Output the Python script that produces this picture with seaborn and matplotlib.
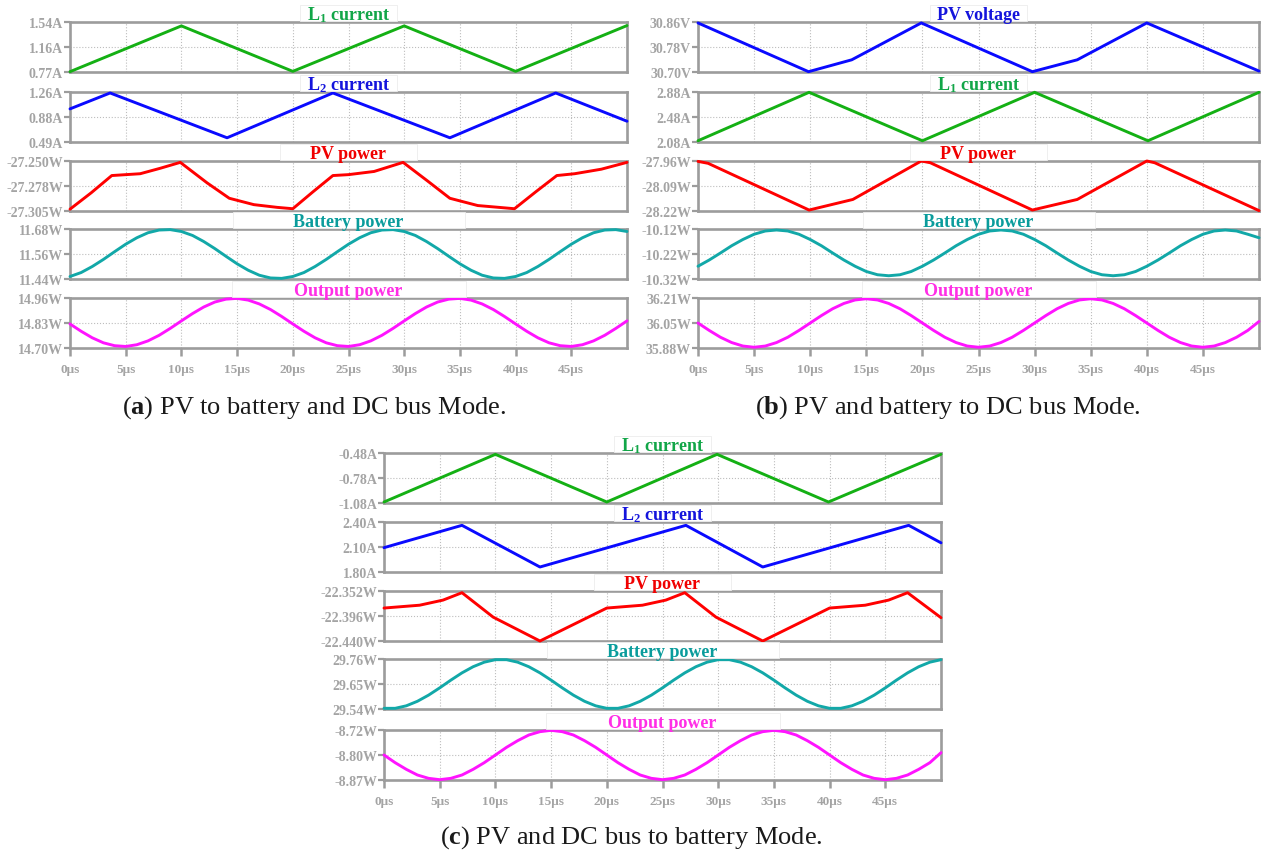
import matplotlib.pyplot as plt
from matplotlib.patches import Rectangle
import seaborn as sns

sns.set_style('ticks')
plt.rcParams['font.family'] = ['Liberation Serif', 'DejaVu Serif']
plt.rcParams['mathtext.fontset'] = 'custom'
plt.rcParams['mathtext.rm'] = 'Liberation Serif'
plt.rcParams['mathtext.bf'] = 'Liberation Serif:bold'
plt.rcParams['mathtext.it'] = 'Liberation Serif:italic'

W, H = 1263, 854

# time axis (µs)
t_us = list(range(51))
x_ticks = [0, 5, 10, 15, 20, 25, 30, 35, 40, 45]
x_labels = ['0µs', '5µs', '10µs', '15µs', '20µs', '25µs', '30µs', '35µs', '40µs', '45µs']

# ---- (a) PV to battery and DC bus mode ----
a_l1_t = [0, 10, 20, 30, 40, 50]
a_l1 = [0.775, 1.48, 0.78, 1.48, 0.78, 1.485]
a_l2_t = [0, 3.6, 14.1, 23.6, 34.1, 43.6, 50]
a_l2 = [1.00, 1.245, 0.555, 1.245, 0.555, 1.245, 0.81]
a_pv_t = [0, 1.9, 3.75, 6.3, 8.1, 9.9, 12.3, 14.3, 16.5, 18.6, 20, 21.8, 23.6, 25, 27.3,
          29.9, 32.1, 34.1, 36.6, 38.5, 39.9, 41.8, 43.7, 45.3, 47.7, 50]
a_pv = [-27.303, -27.285, -27.266, -27.264, -27.258, -27.2515, -27.274, -27.291, -27.298,
        -27.301, -27.3025, -27.284, -27.266, -27.265, -27.2615, -27.2515, -27.272, -27.291,
        -27.299, -27.301, -27.3025, -27.284, -27.266, -27.264, -27.259, -27.2515]
a_bat = [11.452, 11.471, 11.500, 11.534, 11.571, 11.607, 11.638, 11.662, 11.675, 11.677,
         11.668, 11.649, 11.620, 11.586, 11.549, 11.513, 11.482, 11.458, 11.445, 11.443,
         11.452, 11.471, 11.500, 11.534, 11.571, 11.607, 11.638, 11.662, 11.675, 11.677,
         11.668, 11.649, 11.620, 11.586, 11.549, 11.513, 11.482, 11.458, 11.445, 11.443,
         11.452, 11.471, 11.500, 11.534, 11.571, 11.607, 11.638, 11.662, 11.675, 11.677,
         11.668]
a_out = [14.825, 14.787, 14.753, 14.727, 14.712, 14.708, 14.717, 14.737, 14.766, 14.802,
         14.841, 14.879, 14.913, 14.939, 14.954, 14.958, 14.949, 14.929, 14.900, 14.864,
         14.825, 14.787, 14.753, 14.727, 14.712, 14.708, 14.717, 14.737, 14.766, 14.802,
         14.841, 14.879, 14.913, 14.939, 14.954, 14.958, 14.949, 14.929, 14.900, 14.864,
         14.825, 14.787, 14.753, 14.727, 14.712, 14.708, 14.717, 14.737, 14.766, 14.802,
         14.841]

# ---- (b) PV and battery to DC bus mode ----
b_v_t = [0, 9.85, 13.7, 19.9, 29.8, 33.8, 40, 50]
b_v = [30.857, 30.701, 30.739, 30.857, 30.701, 30.739, 30.857, 30.703]
b_l1_t = [0, 9.9, 20, 30, 40.1, 50]
b_l1 = [2.10, 2.875, 2.10, 2.875, 2.10, 2.875]
b_pv_t = [0, 0.9, 9.9, 13.8, 19.9, 20.7, 29.8, 33.8, 40, 40.7, 50]
b_pv = [-27.962, -27.972, -28.215, -28.16, -27.96, -27.969, -28.215, -28.16, -27.96,
        -27.969, -28.218]
b_bat = [-10.269, -10.244, -10.216, -10.187, -10.162, -10.141, -10.128, -10.124, -10.128,
         -10.141, -10.162, -10.187, -10.216, -10.244, -10.269, -10.290, -10.303, -10.307,
         -10.303, -10.290,
         -10.269, -10.244, -10.216, -10.187, -10.162, -10.141, -10.128, -10.124, -10.128,
         -10.141, -10.162, -10.187, -10.216, -10.244, -10.269, -10.290, -10.303, -10.307,
         -10.303, -10.290,
         -10.269, -10.244, -10.216, -10.187, -10.162, -10.141, -10.128, -10.124, -10.128,
         -10.141, -10.155]
b_out = [36.045, 35.996, 35.951, 35.916, 35.893, 35.885, 35.893, 35.916, 35.951, 35.996,
         36.045, 36.094, 36.139, 36.174, 36.197, 36.205, 36.197, 36.174, 36.139, 36.094,
         36.045, 35.996, 35.951, 35.916, 35.893, 35.885, 35.893, 35.916, 35.951, 35.996,
         36.045, 36.094, 36.139, 36.174, 36.197, 36.205, 36.197, 36.174, 36.139, 36.094,
         36.045, 35.996, 35.951, 35.916, 35.893, 35.885, 35.893, 35.916, 35.951, 35.996,
         36.055]

# ---- (c) PV and DC bus to battery mode ----
c_l1_t = [0, 10, 20, 29.9, 39.9, 50]
c_l1 = [-1.068, -0.496, -1.068, -0.496, -1.068, -0.496]
c_l2_t = [0, 7.0, 14.0, 27.1, 34.0, 47.1, 50]
c_l2 = [2.092, 2.36, 1.86, 2.36, 1.86, 2.36, 2.15]
c_pv_t = [0, 3.2, 5.3, 7.0, 9.8, 14.0, 20.0, 23.2, 25.3, 27.0, 29.8, 34.0, 40.0, 43.2,
          45.3, 47.0, 50]
c_pv = [-22.382, -22.377, -22.368, -22.355, -22.398, -22.440, -22.382, -22.377, -22.368,
        -22.355, -22.398, -22.440, -22.382, -22.377, -22.368, -22.355, -22.399]
c_bat = [29.543, 29.543, 29.554, 29.574, 29.601, 29.633, 29.667, 29.699, 29.726, 29.746,
         29.757, 29.757, 29.746, 29.726, 29.699, 29.667, 29.633, 29.601, 29.574, 29.554,
         29.543, 29.543, 29.554, 29.574, 29.601, 29.633, 29.667, 29.699, 29.726, 29.746,
         29.757, 29.757, 29.746, 29.726, 29.699, 29.667, 29.633, 29.601, 29.574, 29.554,
         29.543, 29.543, 29.554, 29.574, 29.601, 29.633, 29.667, 29.699, 29.726, 29.746,
         29.757]
c_out = [-8.795, -8.818, -8.838, -8.855, -8.865, -8.869, -8.865, -8.855, -8.838, -8.818,
         -8.795, -8.772, -8.752, -8.735, -8.725, -8.721, -8.725, -8.735, -8.752, -8.772,
         -8.795, -8.818, -8.838, -8.855, -8.865, -8.869, -8.865, -8.855, -8.838, -8.818,
         -8.795, -8.772, -8.752, -8.735, -8.725, -8.721, -8.725, -8.735, -8.752, -8.772,
         -8.795, -8.818, -8.838, -8.855, -8.865, -8.869, -8.865, -8.855, -8.838, -8.818,
         -8.788]

# y ticks per panel
a_ticks = [[0.77, 1.155, 1.54], [0.49, 0.875, 1.26], [-27.305, -27.2775, -27.25],
           [11.44, 11.56, 11.68], [14.70, 14.83, 14.96]]
a_tick_labels = [['0.77A', '1.16A', '1.54A'], ['0.49A', '0.88A', '1.26A'],
                 ['-27.305W', '-27.278W', '-27.250W'], ['11.44W', '11.56W', '11.68W'],
                 ['14.70W', '14.83W', '14.96W']]
b_ticks = [[30.70, 30.78, 30.86], [2.08, 2.48, 2.88], [-28.22, -28.09, -27.96],
           [-10.32, -10.22, -10.12], [35.88, 36.045, 36.21]]
b_tick_labels = [['30.70V', '30.78V', '30.86V'], ['2.08A', '2.48A', '2.88A'],
                 ['-28.22W', '-28.09W', '-27.96W'], ['-10.32W', '-10.22W', '-10.12W'],
                 ['35.88W', '36.05W', '36.21W']]
c_ticks = [[-1.08, -0.78, -0.48], [1.80, 2.10, 2.40], [-22.44, -22.396, -22.352],
           [29.54, 29.65, 29.76], [-8.87, -8.795, -8.72]]
c_tick_labels = [['-1.08A', '-0.78A', '-0.48A'], ['1.80A', '2.10A', '2.40A'],
                 ['-22.440W', '-22.396W', '-22.352W'], ['29.54W', '29.65W', '29.76W'],
                 ['-8.87W', '-8.80W', '-8.72W']]

L1 = r'$\mathbf{L_1}$ current'
L2 = r'$\mathbf{L_2}$ current'
a_titles = [L1, L2, 'PV power', 'Battery power', 'Output power']
b_titles = ['PV voltage', L1, 'PV power', 'Battery power', 'Output power']
c_titles = [L1, L2, 'PV power', 'Battery power', 'Output power']

GREEN, BLUE, RED, TEAL, MAG = '#14b014', '#0a0aff', '#ff0000', '#12a8a8', '#ff14ff'
GREEN_T, BLUE_T, RED_T, TEAL_T, MAG_T = '#12a648', '#1414dc', '#f00000', '#0a9c9c', '#ff2ee6'
SPINE = '#9c9c9c'
TICK_TXT = '#a4a4a4'

fig = plt.figure(figsize=(12.63, 8.54), dpi=100)


def draw_panel(left, top, width, x, y, color, ticks, labels, title, title_color, box_w, bottom):
    ax = fig.add_axes([left / W, 1 - (top + 50) / H, width / W, 50 / H])
    sns.lineplot(x=x, y=y, ax=ax, color=color, linewidth=2.1, clip_on=False, zorder=3)
    ax.set_xlim(0, 50)
    ax.set_ylim(ticks[0], ticks[-1])
    ax.set_xticks(x_ticks)
    ax.set_yticks(ticks)
    ax.set_yticklabels(labels)
    ax.set_xlabel('')
    ax.set_ylabel('')
    ax.grid(True, linestyle=':', color='#bdbdbd', linewidth=0.8)
    for s in ax.spines.values():
        s.set_visible(True)
        s.set_color(SPINE)
        s.set_linewidth(1.9)
    ax.tick_params(axis='y', direction='out', length=4, width=1.6, color=SPINE, pad=1,
                   labelsize=10, labelcolor=TICK_TXT)
    if bottom:
        ax.set_xticklabels(x_labels)
        ax.tick_params(axis='x', direction='out', length=6, width=1.8, color=SPINE, pad=5,
                       labelsize=9.5, labelcolor=TICK_TXT)
    else:
        ax.tick_params(axis='x', length=0, labelbottom=False)
    for lab in ax.get_yticklabels() + ax.get_xticklabels():
        lab.set_fontweight('bold')
    cx = left + width / 2
    fig.add_artist(Rectangle(((cx - box_w / 2) / W, 1 - (top - 1) / H), box_w / W, 16 / H,
                             transform=fig.transFigure, facecolor='white',
                             edgecolor='#ececec', linewidth=0.6, zorder=5))
    fig.text(cx / W, 1 - (top - 3) / H, title, color=title_color, fontsize=13,
             fontweight='bold', ha='center', va='baseline', zorder=6)
    return ax


line_colors = [GREEN, BLUE, RED, TEAL, MAG]
title_colors = [GREEN_T, BLUE_T, RED_T, TEAL_T, MAG_T]
b_line_colors = [BLUE, GREEN, RED, TEAL, MAG]
b_title_colors = [BLUE_T, GREEN_T, RED_T, TEAL_T, MAG_T]

row_tops = [23, 93, 162, 230, 299]
c_tops = [454, 523, 592, 660, 731]
box_ws = [97, 97, 137, 232, 234]

a_x = [a_l1_t, a_l2_t, a_pv_t, t_us, t_us]
a_y = [a_l1, a_l2, a_pv, a_bat, a_out]
b_x = [b_v_t, b_l1_t, b_pv_t, t_us, t_us]
b_y = [b_v, b_l1, b_pv, b_bat, b_out]
c_x = [c_l1_t, c_l2_t, c_pv_t, t_us, t_us]
c_y = [c_l1, c_l2, c_pv, c_bat, c_out]

for i in range(5):
    draw_panel(70, row_tops[i], 557, a_x[i], a_y[i], line_colors[i], a_ticks[i],
               a_tick_labels[i], a_titles[i], title_colors[i], box_ws[i], i == 4)
    draw_panel(698, row_tops[i], 561, b_x[i], b_y[i], b_line_colors[i], b_ticks[i],
               b_tick_labels[i], b_titles[i], b_title_colors[i], box_ws[i], i == 4)
    draw_panel(384, c_tops[i], 557, c_x[i], c_y[i], line_colors[i], c_ticks[i],
               c_tick_labels[i], c_titles[i], title_colors[i], box_ws[i], i == 4)

cap_kw = dict(fontsize=19, color='#1a1a1a', ha='center', va='center')
fig.text(314 / W, 1 - 408 / H, r'($\mathbf{a}$) PV to battery and DC bus Mode.', **cap_kw)
fig.text(948 / W, 1 - 408 / H, r'($\mathbf{b}$) PV and battery to DC bus Mode.', **cap_kw)
fig.text(631 / W, 1 - 838 / H, r'($\mathbf{c}$) PV and DC bus to battery Mode.', **cap_kw)

fig.savefig('out.png', dpi=100)
